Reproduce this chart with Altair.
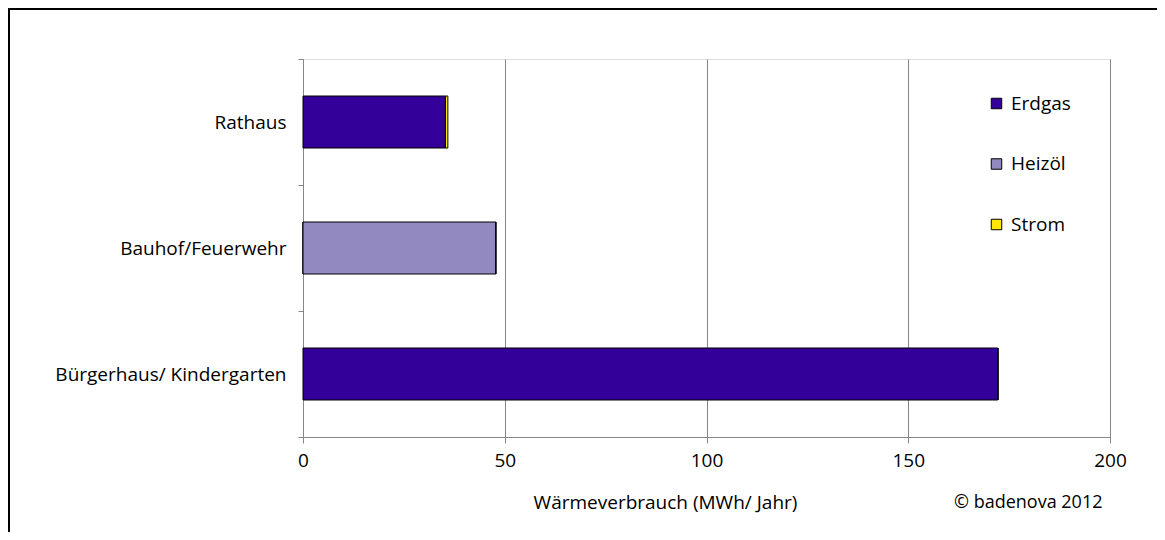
import altair as alt
import pandas as pd

buildings = ["Rathaus", "Bauhof/Feuerwehr", "Bürgerhaus/ Kindergarten"]
sources = ["Erdgas", "Heizöl", "Strom"]
erdgas = [35.3, 0.0, 172.2]
heizoel = [0.0, 47.8, 0.0]
strom = [0.6, 0.0, 0.0]
colors = ["#330099", "#9189BF", "#FFE500"]
x_ticks = [0, 50, 100, 150, 200]
x_title = "Wärmeverbrauch (MWh/ Jahr)"
credit = "© badenova 2012"

rows = []
for i, b in enumerate(buildings):
    for s, vals in zip(sources, [erdgas, heizoel, strom]):
        rows.append({"Gebäude": b, "Energieträger": s, "Wert": vals[i], "ord": sources.index(s)})
df = pd.DataFrame(rows)

FONT = "Open Sans"
FS = 19
W, H = 807, 378
PL, PT, PR, PB = 295, 51, 47, 95

bars = alt.Chart(df).mark_bar(stroke="black", strokeWidth=1, size=52).encode(
    y=alt.Y("Gebäude:N", sort=buildings,
            scale=alt.Scale(paddingInner=0, paddingOuter=0),
            axis=alt.Axis(title=None, tickBand="extent", labelPadding=12, tickSize=5,
                          domainColor="#868686", tickColor="#868686", labelLimit=400,
                          labelFontSize=FS, labelColor="#000000", labelFont=FONT)),
    x=alt.X("Wert:Q", scale=alt.Scale(domain=[0, 200], nice=False),
            axis=alt.Axis(values=x_ticks, title=x_title, grid=True, gridColor="#868686",
                          domainColor="#868686", tickColor="#868686", tickSize=6,
                          labelFlush=False,
                          labelFontSize=FS, labelFont=FONT, labelColor="#000000", labelPadding=8,
                          titleFontSize=FS, titleFont=FONT, titleFontWeight="normal",
                          titleColor="#000000", titleX=362, titleY=56, titleAlign="center")),
    color=alt.Color("Energieträger:N", sort=sources,
                    scale=alt.Scale(domain=sources, range=colors),
                    legend=alt.Legend(title=None, orient="none", legendX=684, legendY=35,
                                      symbolType="square", symbolSize=110, symbolStrokeColor="black",
                                      symbolStrokeWidth=1, rowPadding=40.5, labelOffset=5,
                                      labelFontSize=FS, labelFont=FONT, labelColor="#000000")),
    order=alt.Order("ord:Q"),
)

frame_data = alt.Data(values=[{}])
left_line = alt.Chart(frame_data).mark_rule(color="black", strokeWidth=3).encode(
    x=alt.value(-PL + 0.5), y=alt.value(-PT), y2=alt.value(H + PB))
top_line = alt.Chart(frame_data).mark_rule(color="black", strokeWidth=3).encode(
    x=alt.value(-PL), x2=alt.value(W + PR), y=alt.value(-PT + 0.5))
credit_text = alt.Chart(frame_data).mark_text(
    align="left", baseline="middle", fontSize=18, font=FONT, color="#000000").encode(
    x=alt.value(954 - 303), y=alt.value(503 - 59), text=alt.value(credit))

chart = alt.layer(bars, left_line, top_line, credit_text).properties(
    width=W, height=H,
    padding={"left": PL, "top": PT, "right": PR, "bottom": PB},
    autosize=alt.AutoSizeParams(type="none"),
).configure_view(stroke="#999999", strokeWidth=1).configure(background="white")

chart.save("out.html", embed_options={"renderer": "svg", "actions": False})
